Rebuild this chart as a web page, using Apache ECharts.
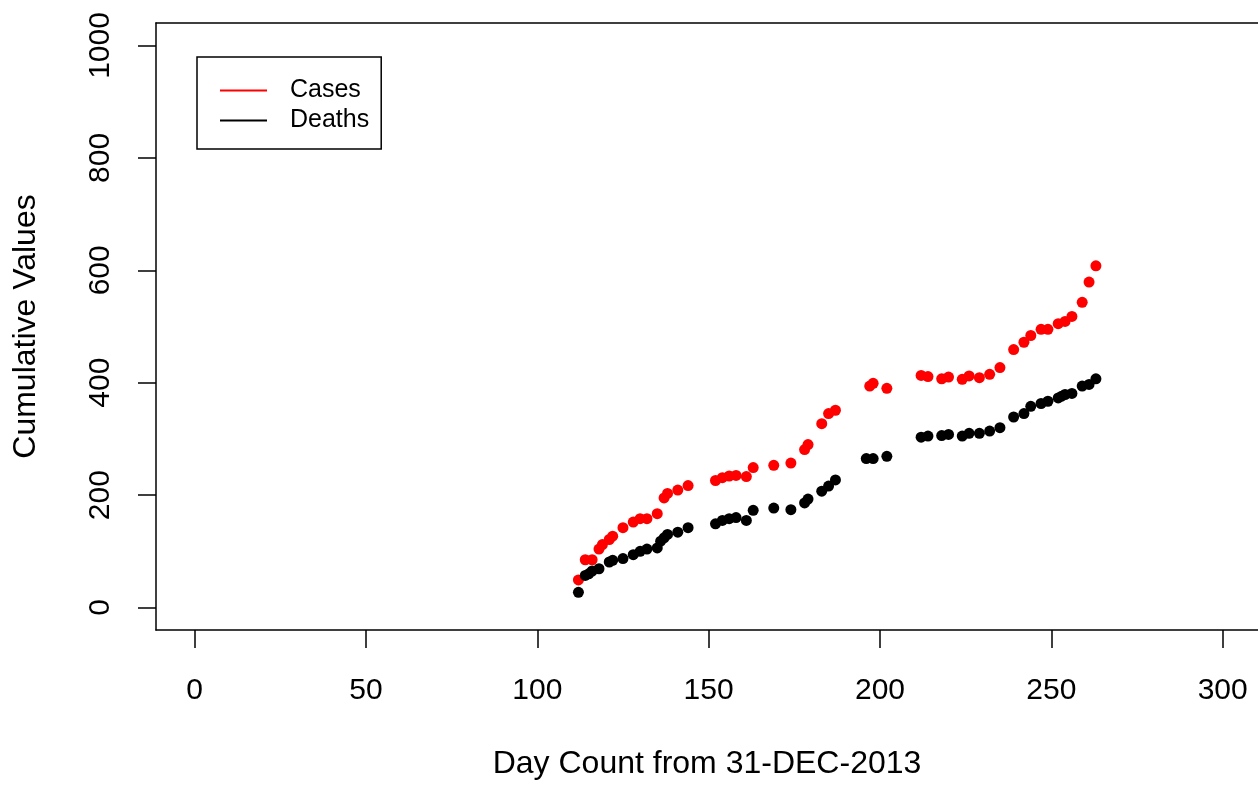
<!DOCTYPE html>
<html>
<head>
<meta charset="utf-8">
<script src="https://cdn.jsdelivr.net/npm/echarts@6/dist/echarts.min.js"></script>
<style>
    html, body {margin: 0; padding: 0; background: #fff;}
    #chart {width: 1258px; height: 785px;}
</style>
</head>
<body>
<div id="chart"></div>
<script>
// values
var caseDays = [112, 114, 116, 118, 119, 121, 122, 125, 128, 130, 132, 135, 137, 138, 141, 144,
    152, 154, 156, 158, 161, 163, 169, 174, 178, 179, 183, 185, 187, 197, 198, 202,
    212, 214, 218, 220, 224, 226, 229, 232, 235, 239, 242, 244, 247, 249, 252, 254, 256, 259, 261, 263];
var caseValues = [49, 85, 85, 104, 112, 121, 127, 142, 152, 158, 158, 167, 195, 203, 209, 217,
    226, 231, 234, 235, 233, 249, 253, 257, 281, 290, 327, 345, 351, 394, 399, 390,
    413, 411, 407, 410, 406, 412, 409, 415, 427, 459, 472, 484, 495, 495, 505, 509, 518, 543, 579, 608];

var deathDays = [112, 114, 115, 116, 118, 121, 122, 125, 128, 130, 132, 135, 136, 137, 138, 141, 144,
    152, 154, 156, 158, 161, 163, 169, 174, 178, 179, 183, 185, 187, 196, 198, 202,
    212, 214, 218, 220, 224, 226, 229, 232, 235, 239, 242, 244, 247, 249, 252, 253, 254, 256, 259, 261, 263];
var deathValues = [27, 57, 60, 65, 69, 81, 84, 87, 94, 100, 104, 106, 118, 124, 130, 134, 142,
    149, 155, 158, 160, 155, 173, 177, 174, 186, 193, 207, 216, 227, 265, 265, 269,
    303, 305, 306, 308, 305, 310, 310, 314, 320, 339, 345, 358, 363, 367, 373, 376, 379, 381, 394, 397, 407];

var xTicks = [0, 50, 100, 150, 200, 250, 300];
var yTicks = [0, 200, 400, 600, 800, 1000];

function pairs(xs, ys) {
    var out = [];
    for (var i = 0; i < xs.length; i++) out.push([xs[i], ys[i]]);
    return out;
}

var font = 'Liberation Sans, Arial, sans-serif';
var black = {color: '#000', width: 1.5};
var plain = function (v) { return String(v); };
// the plot box is cut off by the right edge of the picture: x range ends at ~310 there
var xMin = -11.26, xMax = 310.3;

var chart = echarts.init(document.getElementById('chart'));

var option = {
    animation: false,
    grid: {left: 156, top: 23, bottom: 153, right: 0},
    legend: {
        orient: 'vertical',
        left: 197, top: 57,
        padding: [21, 12, 16, 23],
        itemGap: 5,
        itemWidth: 47, itemHeight: 2,
        icon: 'rect',
        borderColor: '#000', borderWidth: 1.5,
        textStyle: {fontFamily: font, fontSize: 25, color: '#000', lineHeight: 25, padding: [0, 0, 0, 18]},
        data: ['Cases', 'Deaths']
    },
    xAxis: [{
        type: 'value',
        min: xMin, max: xMax,
        name: 'Day Count from 31-DEC-2013',
        nameLocation: 'middle',
        nameGap: 118,
        nameTextStyle: {fontFamily: font, fontSize: 32, color: '#000'},
        axisLine: {show: true, onZero: false, lineStyle: black},
        axisTick: {show: true, length: 18, customValues: xTicks, lineStyle: black},
        axisLabel: {margin: 46, customValues: xTicks, formatter: plain, fontFamily: font, fontSize: 30, color: '#000'},
        splitLine: {show: false}
    }, {
        // top side of the box
        type: 'value',
        position: 'top',
        min: xMin, max: xMax,
        axisLine: {show: true, onZero: false, lineStyle: black},
        axisTick: {show: false},
        axisLabel: {show: false},
        splitLine: {show: false}
    }],
    yAxis: {
        type: 'value',
        min: -40, max: 1040,
        name: 'Cumulative Values',
        nameLocation: 'middle',
        nameGap: 114,
        nameRotate: 90,
        nameTextStyle: {fontFamily: font, fontSize: 32, color: '#000'},
        axisLine: {show: true, onZero: false, lineStyle: black},
        axisTick: {show: true, length: 18, customValues: yTicks, lineStyle: black},
        axisLabel: {margin: 40, rotate: 90, customValues: yTicks, formatter: plain, fontFamily: font, fontSize: 30, color: '#000'},
        splitLine: {show: false}
    },
    series: [{
        name: 'Cases',
        type: 'scatter',
        symbol: 'circle',
        symbolSize: 11,
        itemStyle: {color: '#f00', opacity: 1},
        data: pairs(caseDays, caseValues)
    }, {
        name: 'Deaths',
        type: 'scatter',
        symbol: 'circle',
        symbolSize: 11,
        itemStyle: {color: '#000', opacity: 1},
        data: pairs(deathDays, deathValues)
    }]
};
chart.setOption(option);
</script>
</body>
</html>
